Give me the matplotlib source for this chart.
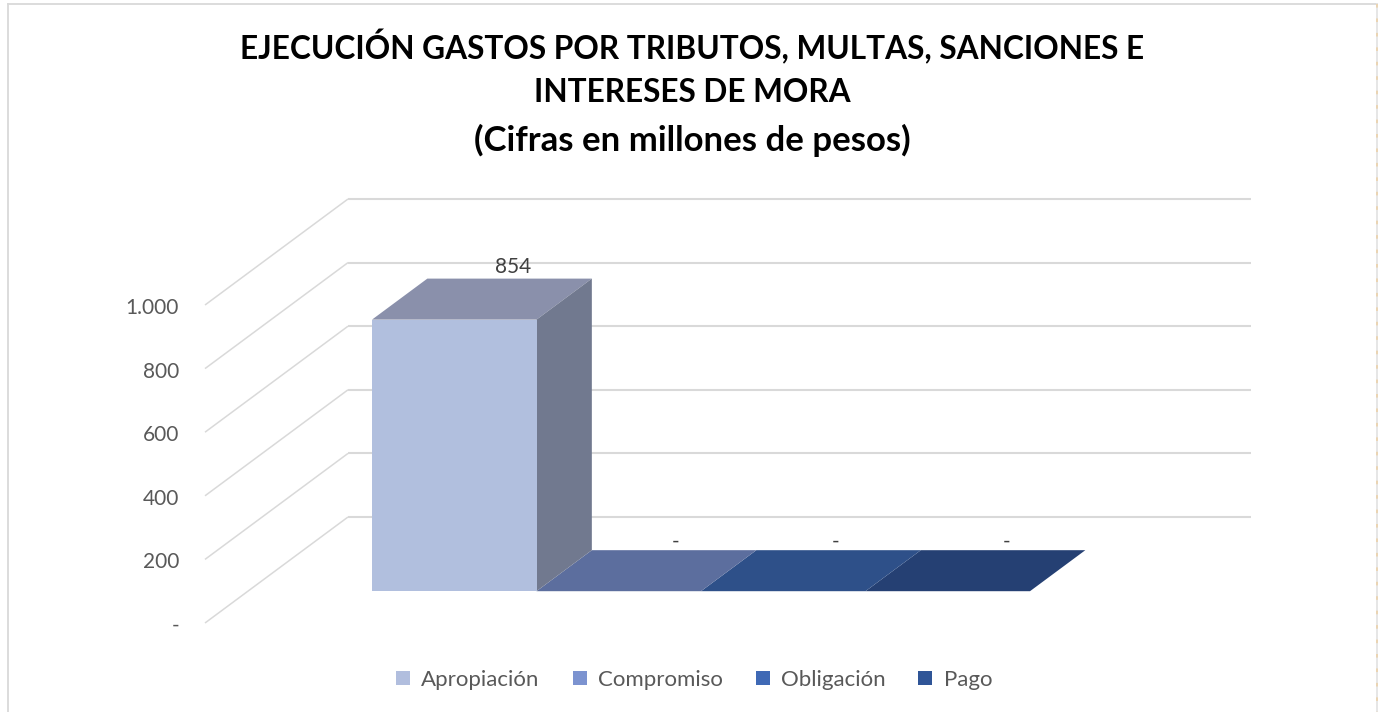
import matplotlib
matplotlib.use("Agg")
import matplotlib.pyplot as plt
from matplotlib.patches import Polygon, Patch

# ---- data ----
title_lines = ["EJECUCIÓN GASTOS POR TRIBUTOS, MULTAS, SANCIONES E",
               "INTERESES DE MORA",
               "(Cifras en millones de pesos)"]
categories = ["Apropiación", "Compromiso", "Obligación", "Pago"]
values = [854, 0, 0, 0]
value_labels = ["854", "-", "-", "-"]
y_ticks = [0, 200, 400, 600, 800, 1000]
y_tick_labels = ["-", "200", "400", "600", "800", "1.000"]

# ---- oblique projection settings ----
W, H = 1378, 712
PX_PER_CAT = 164.5
PX_PER_VAL = 63.6 / 200
DEPTH_DX, DEPTH_DY = 143.0, 106.0
X0_PX, Y0_PX = 205.0, 623.0        # front-left corner of the floor
BAR_DEPTH0 = 0.30                   # bar front plane
BAR_DEPTH1 = 0.687                  # bar back plane
BAR_X0_PX = 372.0 - BAR_DEPTH0 * DEPTH_DX   # pixel of category 0 at depth 0

fig = plt.figure(figsize=(W / 100, H / 100), dpi=100, facecolor="white")
ax = fig.add_axes([0, 0, 1, 1])
ax.axis("off")
# data space: x = category units, y = values
ax.set_xlim(-BAR_X0_PX / PX_PER_CAT, (W - BAR_X0_PX) / PX_PER_CAT)
ax.set_ylim(-(H - Y0_PX) / PX_PER_VAL, Y0_PX / PX_PER_VAL)


def proj(cat, val, depth):
    return (cat + depth * DEPTH_DX / PX_PER_CAT,
            val + depth * DEPTH_DY / PX_PER_VAL)


# ---- chart frame ----
GRID = "#D9D9D9"
fx = lambda px: px / W
fy = lambda py: 1 - py / H
fig.add_artist(plt.Line2D([fx(7.5), fx(7.5)], [fy(3.5), 0], color=GRID, lw=1.3))
fig.add_artist(plt.Line2D([fx(7.5), fx(1376.5)], [fy(3.5), fy(3.5)], color=GRID, lw=1.3))
fig.add_artist(plt.Line2D([fx(1376.5), fx(1376.5)], [fy(3.5), 0], color="#E4E4E4", lw=1.3))
fig.add_artist(plt.Line2D([fx(1376.5), fx(1376.5)], [fy(3.5), 0], color="#EBD3AE", lw=1.3,
                          linestyle=(0, (2, 6))))

# ---- gridlines ----
left_cat = (X0_PX - BAR_X0_PX) / PX_PER_CAT
right_cat = (1251.0 - DEPTH_DX - BAR_X0_PX) / PX_PER_CAT
for v, lab in zip(y_ticks, y_tick_labels):
    x0, y0 = proj(left_cat, v, 0)
    x1, y1 = proj(left_cat, v, 1)
    x2, y2 = proj(right_cat, v, 1)
    ax.plot([x0, x1], [y0, y1], color=GRID, lw=1.1, solid_capstyle="butt", zorder=1)
    ax.plot([x1, x2], [y1, y2], color=GRID, lw=1.5, solid_capstyle="butt", zorder=1)
    ax.annotate(lab, (x0, y0), xytext=(-26, -3), textcoords="offset pixels", ha="right",
                va="center", fontsize=15, color="#595959", family="Lato")

# ---- bars ----
front_col = "#B1BFDE"
top_col = ["#8A90AB", "#5C6E9E", "#2E5089", "#254073"]
side_col = "#71798F"
for i, v in reversed(list(enumerate(values))):
    a, b = i, i + 1
    p = lambda c, val, d: proj(c, val, BAR_DEPTH0 + d * (BAR_DEPTH1 - BAR_DEPTH0))
    ax.add_patch(Polygon([p(a, v, 0), p(b, v, 0), p(b, v, 1), p(a, v, 1)],
                         fc=top_col[i], ec="none", zorder=3))
    if v > 0:
        ax.add_patch(Polygon([p(b, 0, 0), p(b, 0, 1), p(b, v, 1), p(b, v, 0)],
                             fc=side_col, ec="none", zorder=3))
        ax.add_patch(Polygon([p(a, 0, 0), p(b, 0, 0), p(b, v, 0), p(a, v, 0)],
                             fc=front_col, ec="none", zorder=4))

# ---- value labels ----
label_nudge = [(4, 12), (1, 9), (-3, 9), (3, 9)]
for i, (v, lab) in enumerate(zip(values, value_labels)):
    anchor = proj(i + 0.5, v, BAR_DEPTH1)
    ax.annotate(lab, anchor, xytext=label_nudge[i], textcoords="offset pixels",
                ha="center", va="center", fontsize=15, color="#404040", family="Lato", zorder=6)

# ---- title ----
title_y = [47, 93, 140]
title_size = [22.8, 22.8, 25]
for line, py, size in zip(title_lines, title_y, title_size):
    fig.text(692.5 / W, 1 - py / H, line, ha="center", va="center", fontsize=size,
             fontweight="bold", family="Lato", color="black")

# ---- legend ----
leg_cols = ["#B1BEDE", "#7C93D0", "#3F69B5", "#2F5597"]
handles = [Patch(fc=c, ec="none", label=n) for c, n in zip(leg_cols, categories)]
leg = fig.legend(handles=handles, ncol=4, loc="center", bbox_to_anchor=(694 / W, 1 - 680 / H),
                 frameon=False, handlelength=0.63, handleheight=0.63,
                 handletextpad=0.5, columnspacing=1.49, prop={"family": "Lato", "size": 16},
                 labelcolor="#595959")

fig.savefig("out.png", dpi=100)
